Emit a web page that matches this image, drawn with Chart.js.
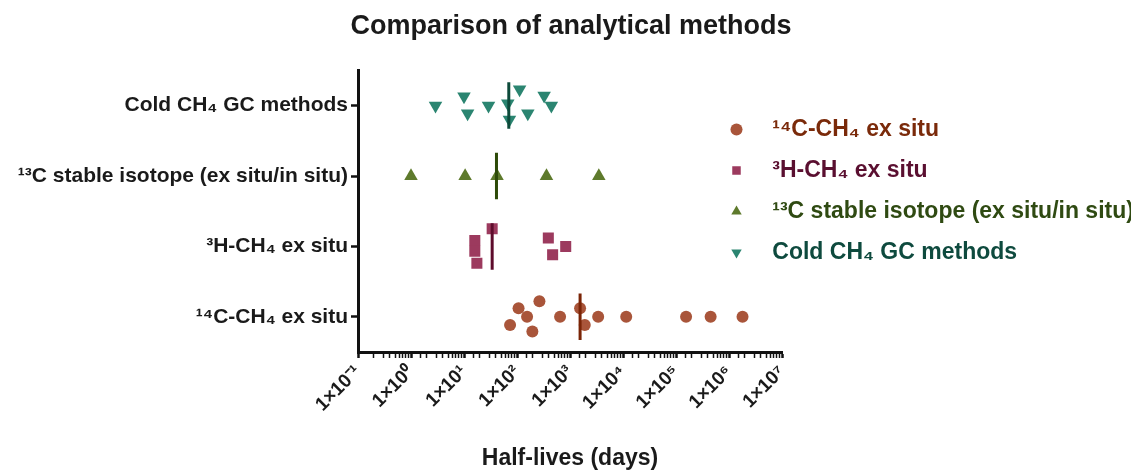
<!DOCTYPE html>
<html>
<head>
<meta charset="utf-8">
<title>Comparison of analytical methods</title>
<script src="https://cdn.jsdelivr.net/npm/chart.js@4.4.1/dist/chart.umd.min.js"></script>
<style>
  html, body { margin: 0; padding: 0; background: #fff; overflow: hidden; }
  #wrap { width: 1142px; height: 470px; position: relative; }
</style>
</head>
<body>
<div id="wrap"><canvas id="methodsChart"></canvas></div>
<script>
// rows, bottom to top
const methods = [
  '¹⁴C-CH₄ ex situ',
  '³H-CH₄ ex situ',
  '¹³C stable isotope (ex situ/in situ)',
  'Cold CH₄ GC methods'
]
const decadeLabels = ['1×10⁻¹', '1×10⁰', '1×10¹', '1×10²', '1×10³', '1×10⁴', '1×10⁵', '1×10⁶', '1×10⁷']

// half-lives (days), jitter = vertical scatter inside the row
const c14Days = [74, 107, 155, 195, 265, 650, 1550, 1900, 3400, 11500, 155000, 450000, 1800000]
const c14Jitter = [-0.115, 0.12, 0, -0.21, 0.22, 0, 0.12, -0.115, 0, 0, 0, 0, 0]

const h3Days = [16, 16, 17.5, 34, 390, 830, 470]
const h3Jitter = [0.085, -0.07, -0.24, 0.25, 0.12, 0, -0.12]

const c13Days = [1, 10.5, 42, 360, 3500]
const c13Jitter = [0, 0, 0, 0, 0]

const coldDays = [2.9, 10, 11.7, 29, 67, 72, 112, 160, 325, 445]
const coldJitter = [0, 0.13, -0.11, 0, 0.03, -0.2, 0.23, -0.11, 0.14, 0]

const medianDays = [1550, 34, 41, 70]

const fillColors = ['#a9553a', '#9c3a5e', '#5e7a2c', '#2b8571']
const darkColors = ['#7a2406', '#5e0c2c', '#2d4a08', '#0d4a3a']
const textColors = ['#7a2a0a', '#5a0f30', '#2f4a12', '#0e4a3e']

function rowPoints (days, jitter, row) {
  return days.map((d, i) => ({ x: d, y: row + jitter[i] }))
}

function medianLine (i) {
  const row = i + 1
  return {
    label: 'median ' + methods[i],
    data: [{ x: medianDays[i], y: row - 0.33 }, { x: medianDays[i], y: row + 0.33 }],
    showLine: true,
    borderColor: darkColors[i],
    borderWidth: 3,
    pointRadius: 0,
    order: -1
  }
}

const pointSets = [
  { days: c14Days, jitter: c14Jitter, style: 'circle', radius: 6, rotation: 0 },
  { days: h3Days, jitter: h3Jitter, style: 'rect', radius: 7.8, rotation: 0 },
  { days: c13Days, jitter: c13Jitter, style: 'triangle', radius: 7.8, rotation: 0 },
  { days: coldDays, jitter: coldJitter, style: 'triangle', radius: 7.8, rotation: 180 }
]

const datasets = pointSets.map((s, i) => ({
  label: methods[i],
  data: rowPoints(s.days, s.jitter, i + 1),
  pointStyle: s.style,
  pointRadius: s.radius,
  pointHoverRadius: s.radius,
  rotation: s.rotation,
  backgroundColor: fillColors[i],
  borderColor: fillColors[i],
  pointBorderWidth: 0,
  showLine: false,
  order: 0
})).concat(methods.map((m, i) => medianLine(i)))

// legend sits over the right part of the plot, like the original figure
const legendSpot = {
  id: 'legendSpot',
  afterLayout (chart) {
    const lg = chart.legend
    if (!lg) return
    const w = lg.width
    const h = lg.height
    lg.left = 707
    lg.top = 100
    lg.right = lg.left + w
    lg.bottom = lg.top + h
  }
}

const baseLabels = Chart.defaults.plugins.legend.labels.generateLabels

new Chart(document.getElementById('methodsChart'), {
  type: 'scatter',
  data: { datasets },
  plugins: [legendSpot],
  options: {
    responsive: true,
    maintainAspectRatio: false,
    animation: false,
    plugins: {
      title: {
        display: true,
        text: 'Comparison of analytical methods',
        color: '#1a1a1a',
        font: { family: 'Liberation Sans', size: 27, weight: 'bold' },
        padding: { top: 10, bottom: 28 }
      },
      tooltip: { enabled: false },
      legend: {
        position: 'chartArea',
        align: 'start',
        labels: {
          usePointStyle: true,
          boxHeight: 8.5,
          padding: 18,
          font: { family: 'Liberation Sans', size: 23, weight: 'bold' },
          filter: item => item.datasetIndex < 4,
          generateLabels (chart) {
            return baseLabels(chart).map(item => {
              item.text = '  ' + item.text
              item.fontColor = textColors[item.datasetIndex] || '#000'
              item.lineWidth = 0
              return item
            })
          }
        }
      }
    },
    scales: {
      x: {
        type: 'logarithmic',
        min: 0.1,
        max: 1e7,
        border: { display: true, color: '#111', width: 3 },
        grid: {
          drawOnChartArea: false,
          drawTicks: true,
          tickLength: 6,
          tickColor: '#111',
          tickWidth: ctx => (ctx.tick && ctx.tick.major ? 2.5 : 1.5)
        },
        ticks: {
          autoSkip: false,
          minRotation: 45,
          maxRotation: 45,
          padding: 3,
          color: '#1a1a1a',
          font: { family: 'Liberation Sans', size: 19, weight: 'bold' },
          callback (value) {
            const e = Math.log10(value)
            const r = Math.round(e)
            if (Math.abs(e - r) > 1e-6) return ''
            return decadeLabels[r + 1] || ''
          }
        },
        title: {
          display: true,
          text: 'Half-lives (days)',
          color: '#1a1a1a',
          font: { family: 'Liberation Sans', size: 23, weight: 'bold' },
          padding: { top: 0, bottom: -2 }
        },
        afterFit (scale) {
          scale.height = 118
          scale.paddingLeft = 0
          scale.paddingRight = 0
        }
      },
      y: {
        type: 'linear',
        min: 0.5,
        max: 4.5,
        border: { display: true, color: '#111', width: 3 },
        grid: {
          drawOnChartArea: false,
          drawTicks: true,
          tickLength: 7,
          tickColor: '#111',
          tickWidth: 2.5
        },
        afterBuildTicks (scale) {
          scale.ticks = methods.map((m, i) => ({ value: i + 1 }))
        },
        ticks: {
          padding: 3,
          color: '#1a1a1a',
          font: { family: 'Liberation Sans', size: 21, weight: 'bold' },
          callback: value => methods[value - 1] || ''
        },
        afterFit (scale) {
          scale.width = 358
        }
      },
      // empty strip on the right, keeps the plot narrow like the figure
      rightSpace: {
        type: 'linear',
        position: 'right',
        display: true,
        grid: { display: false },
        border: { display: false },
        ticks: { display: false },
        afterFit (scale) {
          scale.width = 360
        }
      }
    }
  }
})
</script>
</body>
</html>
